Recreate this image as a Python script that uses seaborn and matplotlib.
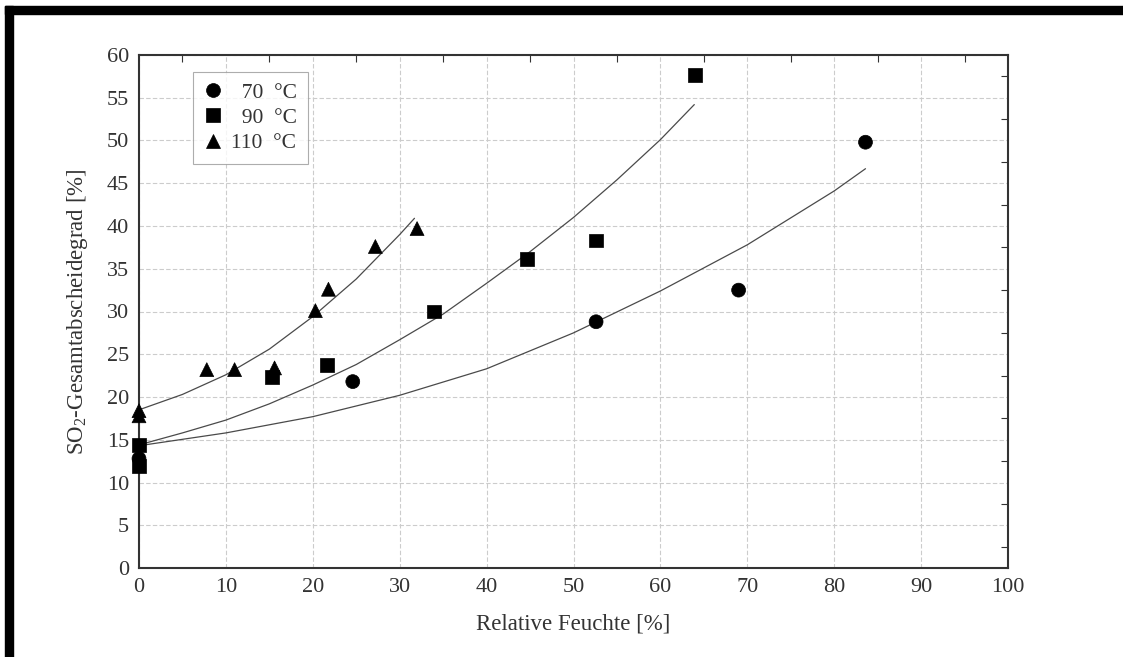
import numpy as np
import pandas as pd
import matplotlib
matplotlib.use("Agg")
import matplotlib.pyplot as plt
from matplotlib.patches import Rectangle
import seaborn as sns

# ---------------- data ----------------
series_names = ["70 °C", "90 °C", "110 °C"]

x70 = [0, 24.6, 52.6, 69.0, 83.6]
y70 = [12.8, 21.8, 28.8, 32.5, 49.8]

x90 = [0, 0, 15.3, 21.6, 33.9, 44.7, 52.6, 64.0]
y90 = [14.4, 11.9, 22.3, 23.7, 30.0, 36.1, 38.3, 57.7]

x110 = [0, 0, 7.8, 11.0, 15.6, 20.3, 21.8, 27.2, 32.0]
y110 = [18.4, 17.8, 23.2, 23.2, 23.4, 30.1, 32.6, 37.6, 39.7]

# trend curves
c70_x = [0, 10, 20, 30, 40, 50, 60, 70, 80, 83.6]
c70_y = [14.3, 15.8, 17.7, 20.2, 23.3, 27.5, 32.4, 37.8, 44.1, 46.7]

c90_x = [0, 5, 10, 15, 20, 25, 30, 35, 40, 45, 50, 55, 60, 63.9]
c90_y = [14.4, 15.8, 17.3, 19.2, 21.4, 23.8, 26.7, 29.7, 33.3, 37.0, 41.0, 45.4, 50.1, 54.2]

c110_x = [0, 5, 10, 15, 20, 25, 30, 31.7]
c110_y = [18.5, 20.3, 22.6, 25.6, 29.4, 33.8, 39.0, 40.9]

x_ticks = [0, 10, 20, 30, 40, 50, 60, 70, 80, 90, 100]
y_ticks = [0, 5, 10, 15, 20, 25, 30, 35, 40, 45, 50, 55, 60]
legend_labels = ["  70  °C", "  90  °C", "110  °C"]

x_label = "Relative Feuchte [%]"
y_label = "SO$_2$-Gesamtabscheidegrad [%]"

# ---------------- tables ----------------
pts = pd.concat([
    pd.DataFrame({"x": x70, "y": y70, "serie": series_names[0]}),
    pd.DataFrame({"x": x90, "y": y90, "serie": series_names[1]}),
    pd.DataFrame({"x": x110, "y": y110, "serie": series_names[2]}),
], ignore_index=True)

curves = pd.concat([
    pd.DataFrame({"x": c70_x, "y": c70_y, "serie": series_names[0]}),
    pd.DataFrame({"x": c90_x, "y": c90_y, "serie": series_names[1]}),
    pd.DataFrame({"x": c110_x, "y": c110_y, "serie": series_names[2]}),
], ignore_index=True)

# ---------------- style ----------------
sns.set_theme(style="white")
plt.rcParams["font.family"] = ["Liberation Serif", "DejaVu Serif"]
plt.rcParams["mathtext.fontset"] = "custom"
plt.rcParams["mathtext.rm"] = "Liberation Serif"
plt.rcParams["mathtext.it"] = "Liberation Serif:italic"

W, H = 1123, 657
fig = plt.figure(figsize=(W / 100, H / 100), dpi=100)
fig.patch.set_facecolor("white")
ax = fig.add_axes([139 / W, 1 - 568 / H, (1008 - 139) / W, (568 - 55) / H])

# curves
sns.lineplot(data=curves, x="x", y="y", units="serie", estimator=None, sort=False,
             color="#4a4a4a", linewidth=0.9, ax=ax, legend=False)

# points
palette = {s: "black" for s in series_names}
markers = {series_names[0]: "o", series_names[1]: "s", series_names[2]: "^"}
sns.scatterplot(data=pts, x="x", y="y", hue="serie", style="serie",
                palette=palette, markers=markers, s=100, edgecolor="black",
                linewidth=0.5, ax=ax, clip_on=False, zorder=5, legend=True)

ax.set_xlim(0, 100)
ax.set_ylim(0, 60)
ax.set_xticks(x_ticks)
ax.set_yticks(y_ticks)
ax.set_xticks(np.arange(5, 100, 10), minor=True)
ax.set_yticks(np.arange(2.5, 60, 5), minor=True)

ax.grid(True, which="major", color="#cccccc", linestyle=(0, (4, 2)), linewidth=0.8)
ax.set_axisbelow(True)

ax.tick_params(which="both", direction="in", top=True, right=True,
               colors="#333333", labelsize=16, pad=7)
ax.tick_params(which="major", length=0)
ax.tick_params(which="minor", length=5, width=0.8)
for lab in ax.get_xticklabels() + ax.get_yticklabels():
    lab.set_color("#333333")

for sp in ax.spines.values():
    sp.set_color("#333333")
    sp.set_linewidth(1.5)

ax.set_xlabel(x_label, fontsize=16.5, color="#333333", labelpad=12)
ax.set_ylabel(y_label, fontsize=16.5, color="#333333", labelpad=12)

handles, labels = ax.get_legend_handles_labels()
hmap = dict(zip(labels, handles))
leg_handles = [hmap[s] for s in series_names]
leg = ax.legend(leg_handles, legend_labels, loc="upper left",
                bbox_to_anchor=(0.062, 0.967), borderaxespad=0,
                fontsize=15.5, frameon=True, fancybox=False,
                handletextpad=0.4, labelspacing=0.24, borderpad=0.5,
                handlelength=0.86, markerscale=1.0)
leg.get_frame().set_edgecolor("#999999")
leg.get_frame().set_linewidth(0.8)
for t in leg.get_texts():
    t.set_color("#333333")

# thick black frame on top and left of the picture
fig.patches.append(Rectangle((5 / W, 1 - 14 / H), 1 - 5 / W, 8 / H,
                             transform=fig.transFigure, color="black", zorder=10))
fig.patches.append(Rectangle((5 / W, 0), 8 / W, 1 - 6 / H,
                             transform=fig.transFigure, color="black", zorder=10))

fig.savefig("out.png", dpi=100)
